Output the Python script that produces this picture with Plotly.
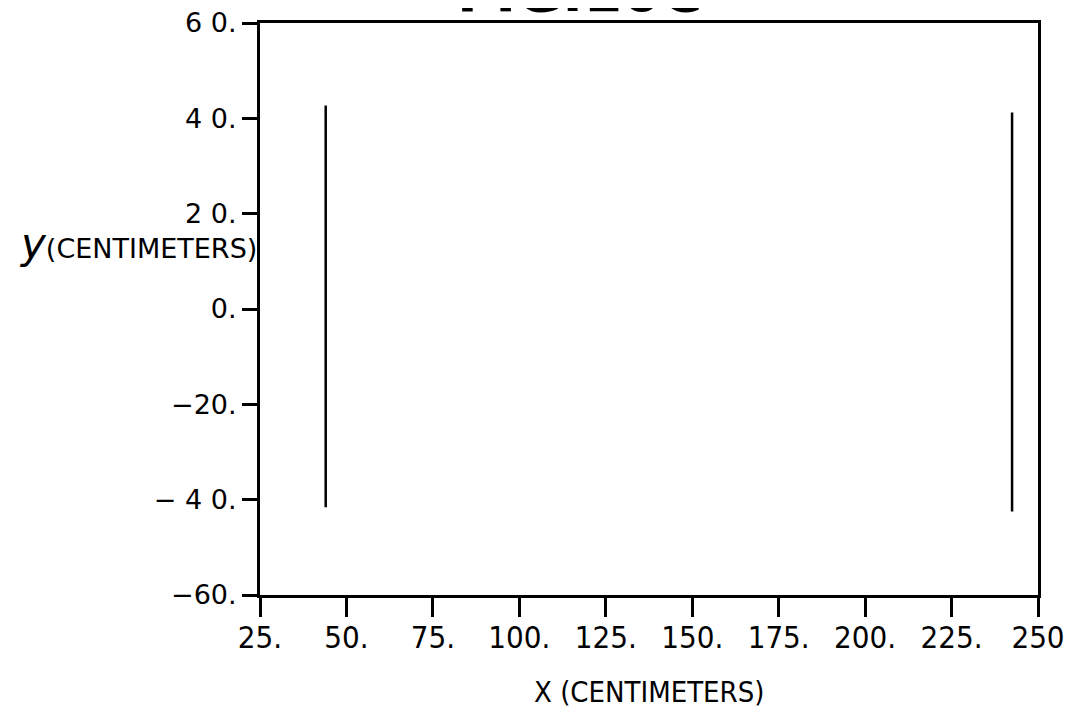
import plotly.graph_objects as go

# Data: two vertical segments (x in cm, y in cm)
seg_names = ["left", "right"]
seg_x = [[44.0, 44.0], [242.5, 242.5]]
seg_y = [[42.7, -41.6], [41.2, -42.5]]

x_tickvals = [25, 50, 75, 100, 125, 150, 175, 200, 225, 250]
x_ticktext = ["25.", "50.", "75.", "100.", "125.", "150.", "175.", "200.", "225.", "250"]
y_tickvals = [-60, -40, -20, 0, 20, 40, 60]
y_ticktext = ["\u221260.", "\u2212 4 0.", "\u221220.", "0.", "2 0.", "4 0.", "6 0."]

FONT_C = "DejaVu Sans Condensed, Liberation Sans Narrow, Liberation Sans, sans-serif"
FONT = "DejaVu Sans, sans-serif"

fig = go.Figure()
for name, xs, ys in zip(seg_names, seg_x, seg_y):
    fig.add_trace(go.Scatter(x=xs, y=ys, mode="lines", name=name,
                             line=dict(color="black", width=2.5), showlegend=False,
                             hoverinfo="skip"))

fig.update_layout(
    width=1077, height=707, autosize=False,
    margin=dict(l=252, r=47, t=15, b=120),
    paper_bgcolor="white", plot_bgcolor="white",
    font=dict(family=FONT, color="black"),
)
fig.update_xaxes(
    range=[25, 250], tickvals=x_tickvals, ticktext=x_ticktext,
    showgrid=False, zeroline=False, automargin=False,
    showline=True, linecolor="black", linewidth=3, mirror=True,
    ticks="outside", ticklen=19, tickwidth=2.5, tickcolor="black",
    ticklabelstandoff=-6, ticklabeloverflow="allow",
    tickfont=dict(size=31, family=FONT_C),
)
fig.update_yaxes(
    range=[-60, 60], tickvals=y_tickvals, ticktext=y_ticktext,
    showgrid=False, zeroline=False, automargin=False,
    showline=True, linecolor="black", linewidth=3, mirror=True,
    ticks="outside", ticklen=15, tickwidth=2.5, tickcolor="black",
    ticklabeloverflow="allow",
    tickfont=dict(size=27, family=FONT),
)

# X axis title
fig.add_annotation(
    x=0.5, y=0.0, xref="paper", yref="paper", xanchor="center", yanchor="top",
    text="X (CENTIMETERS)", showarrow=False, yshift=-78,
    font=dict(size=29, family=FONT_C),
)
# Y axis title (horizontal, left of the axis)
fig.add_annotation(
    x=0, y=0.615, xref="paper", yref="paper", xanchor="right", yanchor="middle",
    text="<span style='font-size:42px'><i>y</i></span>(CENTIMETERS)", showarrow=False,
    xshift=-1,
    font=dict(size=27, family=FONT),
)
# Title partially cut off at the top of the page
fig.add_annotation(
    x=0.411, y=1.0, xref="paper", yref="paper", xanchor="center", yanchor="bottom",
    text="<b>FIG.10C</b>", showarrow=False,
    font=dict(size=56, family=FONT),
    yshift=-3,
)

fig.write_html("out.html")
